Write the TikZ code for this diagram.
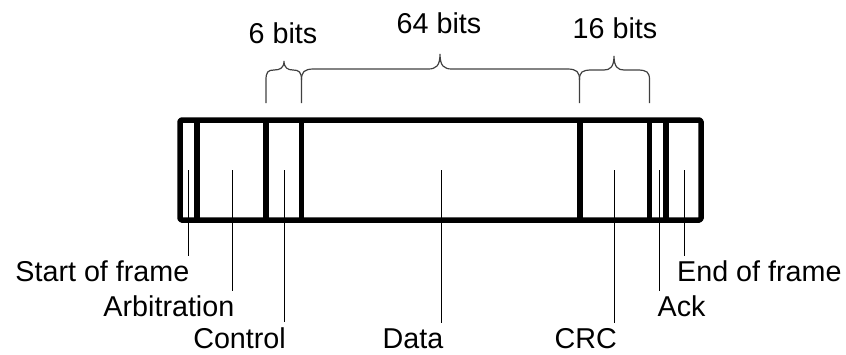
\documentclass[tikz,border=0pt]{standalone}
\usepackage{fontspec}
\setmainfont{Liberation Sans}
\begin{document}
\begin{tikzpicture}[x=1pt,y=-1pt,
  frame/.style={line width=5.5pt,line join=round},
  divider/.style={line width=5.5pt},
  pointer/.style={line width=1pt,black},
  bracepath/.style={line width=1.2pt,black!75},
  lbl/.style={font=\fontsize{28.7}{34}\selectfont,inner xsep=0pt,inner ysep=5pt},
  toplbl/.style={font=\fontsize{28.7}{34}\selectfont,inner sep=0pt,anchor=base}]
\useasboundingbox (0,0) rectangle (846,354);
% frame
\draw[frame,rounded corners=1.5pt] (180,120) rectangle (701,220);
\coordinate (d1) at (197,120);
\coordinate (d2) at (266,120);
\coordinate (d3) at (301.5,120);
\coordinate (d4) at (580,120);
\coordinate (d5) at (649.5,120);
\coordinate (d6) at (666,120);
\foreach \d in {d1,d2,d3,d4,d5,d6}
  \draw[divider] (\d) -- ++(0,100);
% pointer tops
\coordinate (psof) at (188.5,170);
\coordinate (parb) at (232,170);
\coordinate (pctl) at (284,170);
\coordinate (pdat) at (441,170);
\coordinate (pcrc) at (614,170);
\coordinate (pack) at (659,170);
\coordinate (peof) at (684,170);
% labels
\node[lbl,anchor=base east] (sof) at (189.5,281.7) {Start of frame};
\node[lbl,anchor=base east] (arb) at (234.5,316.7) {Arbitration};
\node[lbl,anchor=base east] (ctl) at (286,348) {Control};
\node[lbl,anchor=base east] (dat) at (443.5,348) {Data};
\node[lbl,anchor=base east] (crc) at (617,348) {CRC};
\node[lbl,anchor=base west] (ack) at (657.5,316.7) {Ack};
\node[lbl,anchor=base west] (eof) at (677,281.7) {End of frame};
\draw[pointer] (psof) -- (psof |- sof.north);
\draw[pointer] (parb) -- (parb |- arb.north);
\draw[pointer] (pctl) -- (pctl |- ctl.north);
\draw[pointer] (pdat) -- (pdat |- dat.north);
\draw[pointer] (pcrc) -- (pcrc |- crc.north);
\draw[pointer] (pack) -- (pack |- ack.north);
\draw[pointer] (peof) -- (peof |- eof.north);
% braces
\draw[bracepath] (266,103) -- (266,80) .. controls (266,72) and (268,70) .. (274,70)
  .. controls (280,70) and (284,68) .. (284,61)
  .. controls (284,68) and (288,70) .. (293,70)
  .. controls (299,70) and (301.5,72) .. (301.5,80) -- (301.5,103);
\draw[bracepath] (301.5,80) .. controls (301.5,72) and (304,69) .. (314,69)
  -- (428,69) .. controls (436,69) and (440,66) .. (440,54)
  .. controls (440,66) and (444,69) .. (452,69)
  -- (567,69) .. controls (577,69) and (579.5,72) .. (579.5,80) -- (579.5,103);
\draw[bracepath] (579.5,80) .. controls (579.5,72) and (582,70) .. (592,70)
  -- (604,70) .. controls (610,70) and (614,67) .. (614,56)
  .. controls (614,67) and (618,70) .. (624,70)
  -- (637,70) .. controls (647,70) and (649.5,72) .. (649.5,80) -- (649.5,103);
\node[toplbl] (b6) at (283,43) {6 bits};
\node[toplbl] (b64) at (439,33) {64 bits};
\node[toplbl] (b16) at (615,38) {16 bits};
\end{tikzpicture}
\end{document}
